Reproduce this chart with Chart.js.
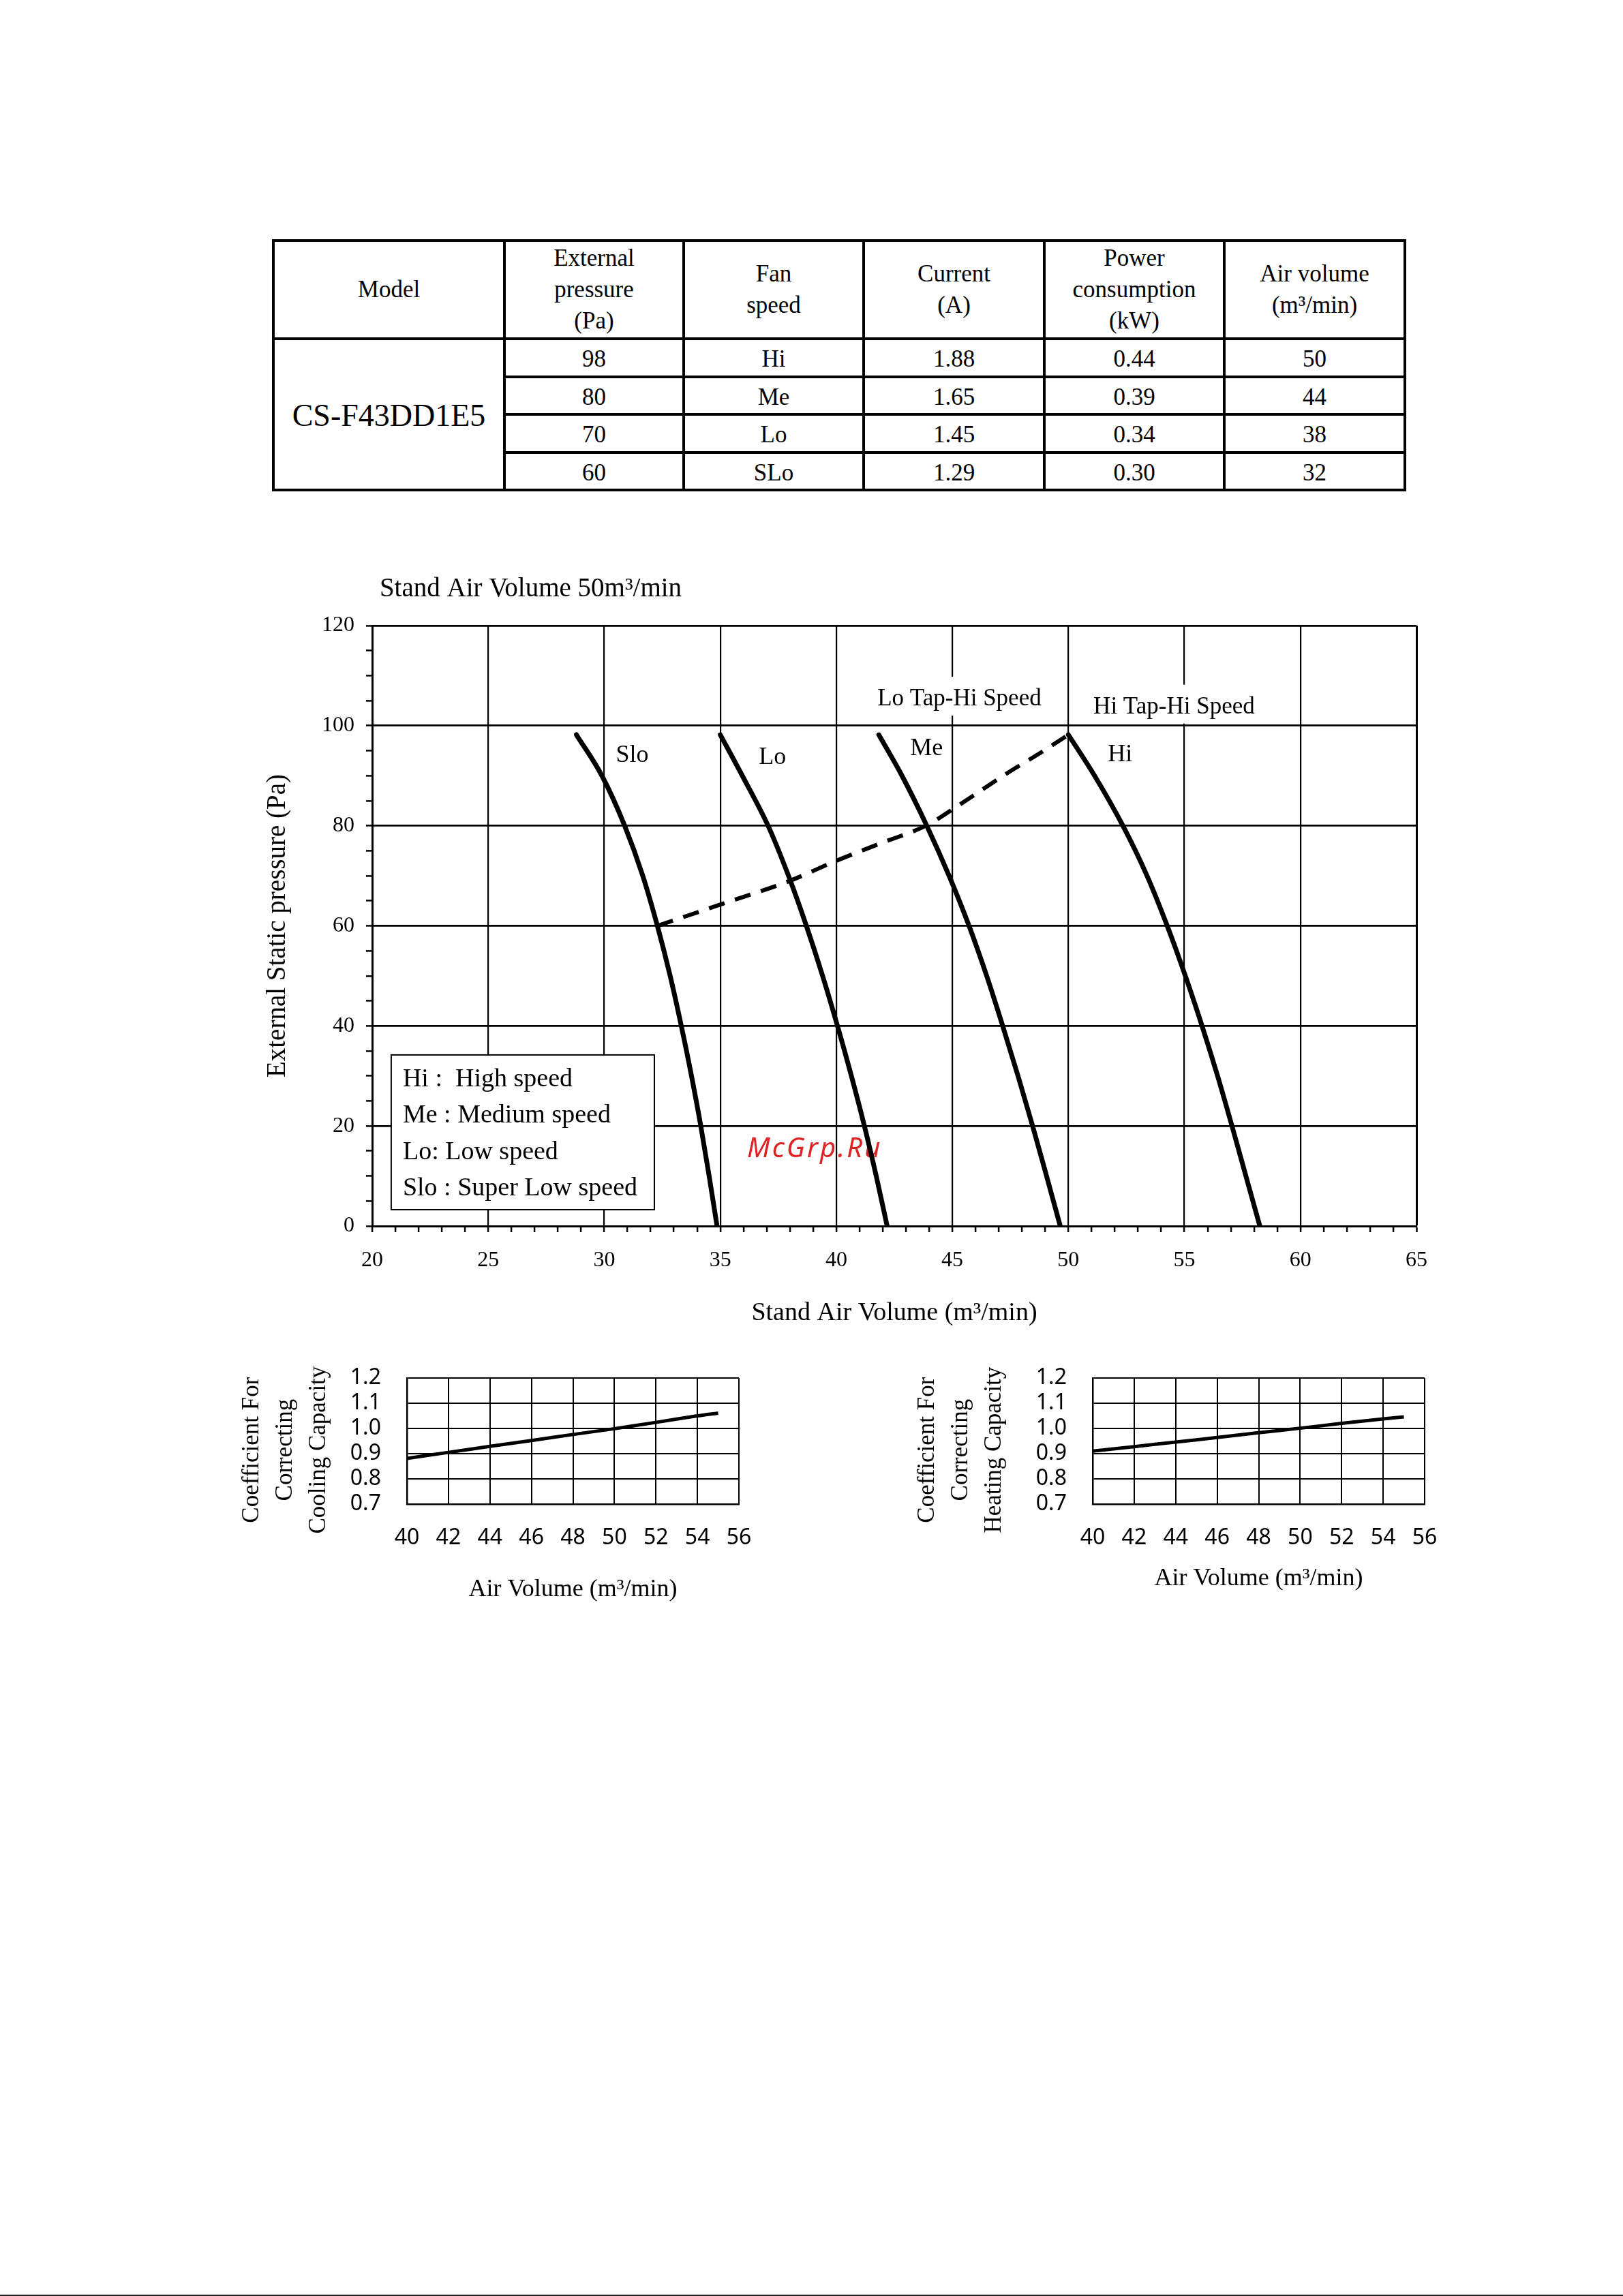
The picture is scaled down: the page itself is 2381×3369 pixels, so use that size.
<!DOCTYPE html>
<html>
<head>
<meta charset="utf-8">
<script src="https://cdn.jsdelivr.net/npm/chart.js@4.4.1/dist/chart.umd.min.js"></script>
<style>
  body { margin: 0; width: 2381px; height: 3369px; background: #fff; position: relative; overflow: hidden; font-family: "Liberation Serif", serif; color: #000; }
  .box { position: absolute; }
  #spec_table { border-collapse: collapse; table-layout: fixed; width: 1662px; font-size: 35px; }
  #spec_table td { border: 4px solid #000; text-align: center; vertical-align: middle; padding: 0; line-height: 46px; }
  #spec_table tr.body td { padding-top: 4px; }
  #spec_table td.model { font-size: 46px; padding-top: 6px; }
  #scan_edge { left: 0; top: 3367px; width: 2381px; height: 2px; background: #222; }
</style>
</head>
<body>
<div class="box" id="table_box" style="left:399px; top:351px;">
  <table id="spec_table"></table>
</div>
<div class="box" style="left:380px; top:830px; width:1740px; height:1150px;"><canvas id="fan_curve"></canvas></div>
<div class="box" style="left:330px; top:1990px; width:800px; height:380px;"><canvas id="coef_cooling"></canvas></div>
<div class="box" style="left:1336px; top:1990px; width:800px; height:380px;"><canvas id="coef_heating"></canvas></div>
<div class="box" id="scan_edge"></div>
<script>
// ---- table values
const TABLE_HEAD = [["Model"], ["External", "pressure", "(Pa)"], ["Fan", "speed"], ["Current", "(A)"], ["Power", "consumption", "(kW)"], ["Air volume", "(m³/min)"]];
const COL_WIDTHS = [339, 263, 264, 265, 264, 265];
const MODEL_NAME = "CS-F43DD1E5";
const PRESSURES = ["98", "80", "70", "60"];
const FAN_SPEEDS = ["Hi", "Me", "Lo", "SLo"];
const CURRENTS = ["1.88", "1.65", "1.45", "1.29"];
const POWERS = ["0.44", "0.39", "0.34", "0.30"];
const AIR_VOLUMES = ["50", "44", "38", "32"];

// ---- fan curves (air volume m3/min read at each pressure step, Pa)
const CURVE_PRESSURE = [98.2, 90, 80, 70, 60, 50, 40, 30, 20, 10, 0];
const SLO_VOLUME = [28.8, 29.9, 30.88, 31.66, 32.29, 32.84, 33.32, 33.76, 34.16, 34.52, 34.86];
const LO_VOLUME = [35.0, 35.95, 37.06, 37.94, 38.71, 39.41, 40.05, 40.65, 41.21, 41.72, 42.19];
const ME_VOLUME = [41.83, 42.83, 43.9, 44.86, 45.72, 46.48, 47.17, 47.83, 48.46, 49.06, 49.65];
const HI_VOLUME = [50.0, 51.13, 52.35, 53.39, 54.26, 55.04, 55.76, 56.43, 57.05, 57.65, 58.25];
const TAP_VOLUME = [32.29, 35.1, 38.0, 40.0, 41.86, 43.9, 45.24, 47.33, 48.94, 50.0];
const TAP_PRESSURE = [60, 64.4, 69, 73, 76.4, 80.1, 84, 90.4, 95, 98.2];

const CURVE_LABELS = [
  { text: "Slo", x: 30.5, y: 94.1 },
  { text: "Lo", x: 36.66, y: 93.6 },
  { text: "Me", x: 43.18, y: 95.4 },
  { text: "Hi", x: 51.7, y: 94.2 },
];
const TAP_LABELS = [
  { text: "Lo Tap-Hi Speed", x: 41.77, y: 105.3 },
  { text: "Hi Tap-Hi Speed", x: 51.08, y: 103.7 },
];
const LEGEND_LINES = ["Hi :  High speed", "Me : Medium speed", "Lo: Low speed", "Slo : Super Low speed"];
const LEGEND_BOX = { x0: 20.82, x1: 32.16, y0: 34.2, y1: 3.27 };

// ---- correction coefficients
const COEF_VOLUME = [40, 42, 44, 46, 48, 50, 52, 54, 55];
const COOLING_COEF = [0.881, 0.905, 0.929, 0.952, 0.976, 0.999, 1.024, 1.05, 1.061];
const HEATING_COEF = [0.91, 0.928, 0.946, 0.964, 0.983, 1.001, 1.02, 1.038, 1.046];

Chart.defaults.font.family = '"Liberation Serif"';
Chart.defaults.color = "#000";

window.onload = init;

function init() {
  buildTable();
  initFanCurve();
  // trailing spaces nudge the rotated titles down a little, as in the print
  initCoefChart("coef_cooling", COOLING_COEF, ["Coefficient For   ", "Correcting   ", "Cooling Capacity   "], 15.5, 16);
  initCoefChart("coef_heating", HEATING_COEF, ["Coefficient For   ", "Correcting   ", "Heating Capacity   "], 0, 32);
}

function buildTable() {
  const table = document.getElementById("spec_table");
  let html = "<colgroup>";
  COL_WIDTHS.forEach(w => { html += '<col style="width:' + w + 'px">'; });
  html += "</colgroup><tr style=\"height:144px\">";
  TABLE_HEAD.forEach(lines => { html += "<td>" + lines.join("<br>") + "</td>"; });
  html += "</tr>";
  const heights = [56, 55, 56, 55];
  for (let i = 0; i < PRESSURES.length; i++) {
    html += '<tr class="body" style="height:' + heights[i] + 'px">';
    if (i === 0) html += '<td class="model" rowspan="4">' + MODEL_NAME + "</td>";
    html += "<td>" + PRESSURES[i] + "</td><td>" + FAN_SPEEDS[i] + "</td><td>" + CURRENTS[i] + "</td><td>" + POWERS[i] + "</td><td>" + AIR_VOLUMES[i] + "</td></tr>";
  }
  table.innerHTML = html;
}

function toPoints(xs, ys) {
  return xs.map((x, i) => ({ x: x, y: ys[i] }));
}

function curveDataset(xs, ys) {
  return {
    data: toPoints(xs, ys),
    borderColor: "#000",
    borderWidth: 7,
    pointRadius: 0,
    cubicInterpolationMode: "monotone",
    borderCapStyle: "round",
    fill: false,
  };
}

function drawText(ctx, text, x, y, font, align, baseline) {
  ctx.save();
  ctx.font = font;
  ctx.fillStyle = "#000";
  ctx.textAlign = align || "left";
  ctx.textBaseline = baseline || "middle";
  ctx.fillText(text, x, y);
  ctx.restore();
}

const fanCurveText = {
  id: "fanCurveText",
  beforeDraw(chart) {
    const { ctx, scales } = chart;
    ctx.save();
    ctx.font = 'italic 40px "Noto Sans"';
    if ("letterSpacing" in ctx) ctx.letterSpacing = "3px";
    ctx.fillStyle = "#dd2323";
    ctx.textAlign = "center";
    ctx.textBaseline = "middle";
    ctx.fillText("McGrp.Ru", scales.x.getPixelForValue(39.07), scales.y.getPixelForValue(15.3));
    ctx.restore();
  },
  beforeDatasetsDraw(chart) {
    const { ctx, scales } = chart;
    const font = '35px "Liberation Serif"';
    // tap labels sit on a white patch that breaks the grid
    TAP_LABELS.forEach(l => {
      const px = scales.x.getPixelForValue(l.x);
      const py = scales.y.getPixelForValue(l.y);
      ctx.save();
      ctx.font = font;
      const w = ctx.measureText(l.text).width;
      ctx.fillStyle = "#fff";
      ctx.fillRect(px - 8, py - 33, w + 16, 57);
      ctx.restore();
      drawText(ctx, l.text, px, py, font);
    });
    // speed legend box
    const bx0 = scales.x.getPixelForValue(LEGEND_BOX.x0);
    const bx1 = scales.x.getPixelForValue(LEGEND_BOX.x1);
    const by0 = scales.y.getPixelForValue(LEGEND_BOX.y0);
    const by1 = scales.y.getPixelForValue(LEGEND_BOX.y1);
    ctx.save();
    ctx.fillStyle = "#fff";
    ctx.fillRect(bx0, by0, bx1 - bx0, by1 - by0);
    ctx.strokeStyle = "#000";
    ctx.lineWidth = 2;
    ctx.strokeRect(bx0, by0, bx1 - bx0, by1 - by0);
    ctx.restore();
    LEGEND_LINES.forEach((t, i) => {
      drawText(ctx, t, bx0 + 17, by0 + 46 + i * 53.4, '38px "Liberation Serif"', "left", "alphabetic");
    });
  },
  afterDraw(chart) {
    const { ctx, scales, chartArea } = chart;
    CURVE_LABELS.forEach(l => {
      drawText(ctx, l.text, scales.x.getPixelForValue(l.x), scales.y.getPixelForValue(l.y), '36px "Liberation Serif"');
    });
    drawText(ctx, "Stand Air Volume 50m³/min", scales.x.getPixelForValue(20.32), chartArea.top - 53, '39px "Liberation Serif"');
  },
};

function initFanCurve() {
  const ctx = document.getElementById("fan_curve");
  let tap = curveDataset(TAP_VOLUME, TAP_PRESSURE);
  tap.borderWidth = 6;
  tap.borderDash = [24, 16];
  tap.borderCapStyle = "butt";

  let options = {
    responsive: true,
    maintainAspectRatio: false,
    animation: false,
    devicePixelRatio: 1,
    layout: { padding: { top: 88, right: 42, left: 0, bottom: 0 } },
    plugins: { legend: { display: false }, tooltip: { enabled: false } },
    scales: {
      x: {
        type: "linear",
        min: 20,
        max: 65,
        afterFit: s => { s.height = 181; },
        ticks: {
          stepSize: 1,
          autoSkip: false,
          maxRotation: 0,
          padding: 22,
          font: { size: 32 },
          callback: v => (v % 5 === 0 ? String(v) : ""),
        },
        grid: {
          color: c => (c.tick && c.tick.value % 5 === 0 ? "#000" : "rgba(0,0,0,0)"),
          lineWidth: c => (c.tick && c.tick.value === 65 ? 3 : 2.2),
          tickColor: "#000",
          tickLength: 9,
          tickWidth: 2.5,
        },
        border: { color: "#000", width: 3 },
        title: { display: true, text: "Stand Air Volume (m³/min)", font: { size: 38 }, padding: { top: 0, bottom: 30 } },
      },
      y: {
        type: "linear",
        min: 0,
        max: 120,
        afterFit: s => { s.width = 166; },
        ticks: {
          stepSize: 5,
          autoSkip: false,
          padding: 17,
          font: { size: 32 },
          callback: v => (v % 20 === 0 ? String(v) : ""),
        },
        grid: {
          color: c => (c.tick && c.tick.value % 20 === 0 ? "#000" : "rgba(0,0,0,0)"),
          lineWidth: 2.8,
          tickColor: "#000",
          tickLength: 9,
          tickWidth: 2.5,
        },
        border: { color: "#000", width: 3 },
        title: { display: true, text: "External Static pressure (Pa)", font: { size: 39 }, padding: { top: 4, bottom: 0 } },
      },
    },
  };

  let chart = new Chart(ctx, {
    type: "line",
    data: {
      datasets: [
        curveDataset(SLO_VOLUME, CURVE_PRESSURE),
        curveDataset(LO_VOLUME, CURVE_PRESSURE),
        curveDataset(ME_VOLUME, CURVE_PRESSURE),
        curveDataset(HI_VOLUME, CURVE_PRESSURE),
        tap,
      ],
    },
    options: options,
    plugins: [fanCurveText],
  });
  return chart;
}

function initCoefChart(id, values, titleLines, titlePad, xTitlePad) {
  const ctx = document.getElementById(id);
  // label gaps come from invisible tick marks so that the layout keeps the plot size
  let options = {
    responsive: true,
    maintainAspectRatio: false,
    animation: false,
    devicePixelRatio: 1,
    layout: { padding: { top: 32, right: 46, left: 0, bottom: 0 } },
    plugins: { legend: { display: false }, tooltip: { enabled: false } },
    scales: {
      x: {
        type: "linear",
        min: 40,
        max: 56,
        afterFit: s => { s.height = 163; },
        ticks: { stepSize: 2, autoSkip: false, maxRotation: 0, padding: 0, font: { family: '"Noto Sans"', size: 32 } },
        grid: { color: "#000", lineWidth: 2, tickColor: "rgba(0,0,0,0)", tickLength: 31 },
        border: { color: "#000", width: 2.5 },
        title: { display: true, text: "Air Volume (m³/min)", font: { size: 36 }, padding: { top: 0, bottom: xTitlePad } },
      },
      y: {
        type: "linear",
        min: 0.7,
        max: 1.2,
        afterFit: s => { s.width = 267; },
        ticks: { stepSize: 0.1, autoSkip: false, padding: 0, font: { family: '"Noto Sans"', size: 32 }, callback: v => v.toFixed(1) },
        grid: { color: "#000", lineWidth: 2, tickColor: "rgba(0,0,0,0)", tickLength: 38 },
        border: { color: "#000", width: 2.5 },
        title: { display: true, text: titleLines, font: { size: 35, lineHeight: 1.4 }, padding: { top: titlePad, bottom: 0 } },
      },
    },
  };
  let chart = new Chart(ctx, {
    type: "line",
    data: {
      datasets: [{
        data: toPoints(COEF_VOLUME, values),
        borderColor: "#000",
        borderWidth: 5,
        pointRadius: 0,
        tension: 0.2,
        fill: false,
      }],
    },
    options: options,
  });
  return chart;
}
</script>
</body>
</html>
